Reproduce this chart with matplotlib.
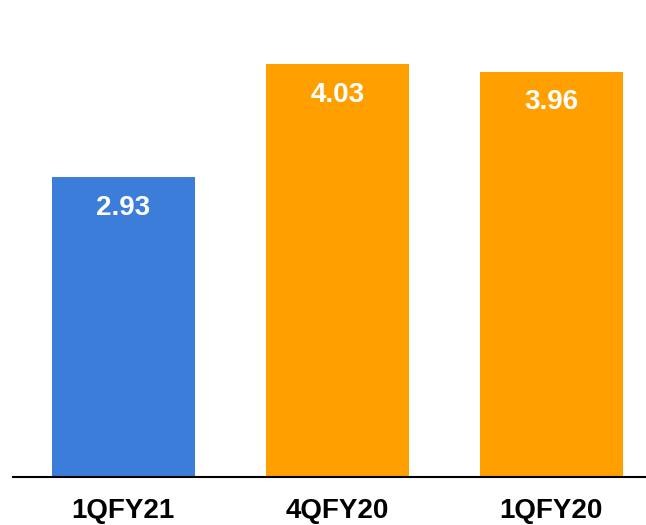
import matplotlib.pyplot as plt

plt.rcParams['font.family'] = ['Liberation Sans', 'DejaVu Sans']

quarters = ['1QFY21', '4QFY20', '1QFY20']
values = [2.93, 4.03, 3.96]
colors = ['#3c7dd9', '#ffa000', '#ffa000']

fig = plt.figure(figsize=(6.46, 5.25), dpi=100)
ax = fig.add_axes([0.02, 0.0914, 0.98, 0.9086])

bars = ax.bar(range(len(values)), values, width=0.668, color=colors)
for i, v in enumerate(values):
    ax.text(i, v - 0.30, f'{v:.2f}', ha='center', va='center',
            color='white', fontsize=20, fontweight='bold')

ax.set_xlim(-0.516, 2.442)
ax.set_ylim(0, 4.66)
ax.set_xticks(range(len(quarters)))
ax.set_xticklabels(quarters, fontsize=20, fontweight='bold')
ax.tick_params(axis='x', length=0, pad=15)
ax.set_yticks([])
for side in ['top', 'right', 'left']:
    ax.spines[side].set_visible(False)
ax.spines['bottom'].set_linewidth(1.5)

fig.savefig('out.png', dpi=100)
